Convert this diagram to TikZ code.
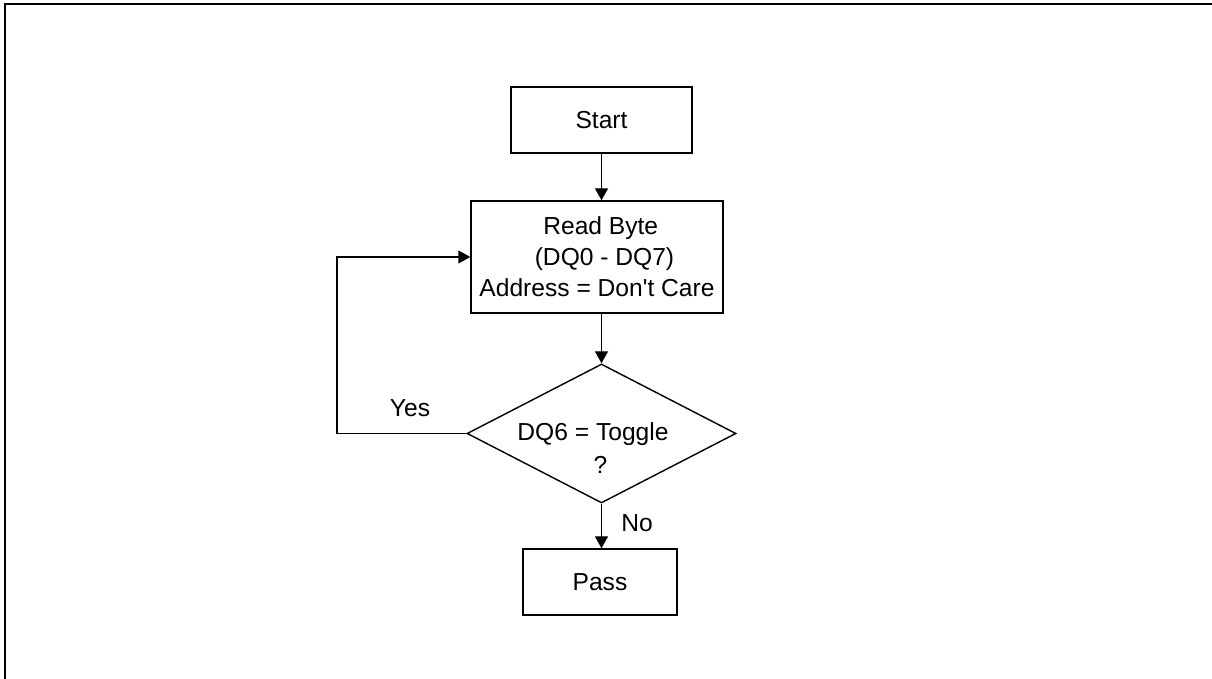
\documentclass[tikz,border=0pt]{standalone}
\usepackage{fontspec}
\setmainfont{Liberation Sans}
\usetikzlibrary{shapes.geometric,arrows.meta}
\tikzset{every path/.style={black,line width=0.8pt},
  every node/.style={font=\fontsize{14}{17.6}\selectfont, inner sep=0pt, align=center},
  block/.style={draw, rectangle},
  decision/.style={draw, diamond, minimum width=5.38cm, minimum height=2.78cm},
  flow/.style={-{Triangle[length=0.24cm,width=0.26cm]}}}
\begin{document}
\begin{tikzpicture}
  \useasboundingbox (0,0) rectangle (24.24,13.58);
  % frame
  \draw[line width=1.1pt] (0.1,0) -- (0.1,13.494) -- (24.24,13.494);
  \node[block, minimum width=3.62cm, minimum height=1.32cm] (start) at (12.03,11.18) {Start};
  \node[block, minimum width=5.04cm, minimum height=2.24cm] (read) at (11.94,8.44)
    {\hspace{0.15cm}Read Byte\\\hspace{0.3cm}(DQ0 - DQ7)\\Address = Don\textquotesingle t Care};
  \node[decision] (toggle) at (12.03,4.91) {};
  \node (togglelbl) at (11.86,4.62) {DQ6 = Toggle\\[1.1pt]\hspace{0.3cm}?};
  \node[block, minimum width=3.08cm, minimum height=1.32cm] (pass) at (12.0,1.94) {Pass};
  \coordinate (loop) at (6.74,4.91);
  \draw[flow] (start.south) -- (start.south |- read.north);
  \draw[flow] (read.south -| toggle.north) -- (toggle.north);
  \draw[flow] (toggle.south) -- (toggle.south |- pass.north);
  \draw[flow] (toggle.west) -- (loop) -- (loop |- read.west) -- (read.west);
  \node (yes) at (8.2,5.42) {Yes};
  \node (no) at (12.74,3.12) {No};
\end{tikzpicture}
\end{document}
